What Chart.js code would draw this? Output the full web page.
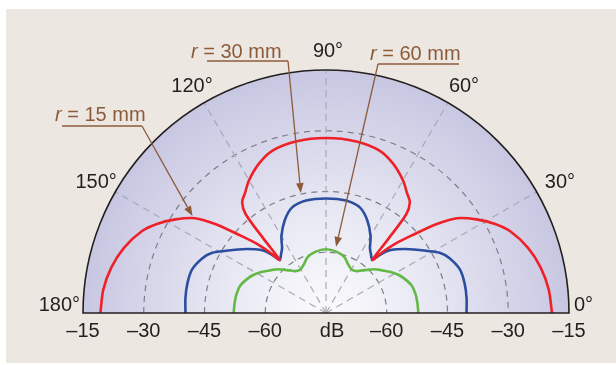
<!DOCTYPE html>
<html>
<head>
<meta charset="utf-8">
<script src="https://cdn.jsdelivr.net/npm/chart.js@4/dist/chart.umd.min.js"></script>
<style>
  html, body { margin: 0; padding: 0; background: #fff; }
  canvas { display: block; }
</style>
</head>
<body>
<canvas id="myChart" width="616" height="365"></canvas>
<script>
// Ángulos (grados) en los que se leyeron los niveles de cada curva
const angles = [0, 6, 12, 18, 24, 28, 32, 36, 39, 42, 45, 47, 49, 50, 51, 53, 56, 60, 66, 72, 80, 90,
                100, 108, 114, 120, 124, 127, 129, 130, 131, 133, 135, 138, 141, 144, 148, 152, 156, 162, 168, 174, 180];

// Niveles en dB para cada distancia r
const level15mm = [-19.2, -19.7, -20.8, -22.6, -25.2, -27.9, -31.2, -35.0, -40.0, -46.0, -50.6, -54.0, -57.5, -51.5, -43.5, -40.6, -39.2, -37.0, -34.4, -32.6, -31.8, -31.6,
                   -31.8, -32.6, -34.4, -37.0, -39.2, -40.6, -43.5, -51.5, -57.5, -54.0, -50.6, -46.0, -40.0, -35.0, -31.2, -27.9, -25.2, -22.6, -20.8, -19.7, -19.3];
const level30mm = [-40.3, -40.1, -40.0, -40.2, -41.6, -43.2, -45.9, -48.2, -49.8, -51.4, -53.1, -55.0, -57.6, -57.4, -57.2, -56.6, -55.6, -53.0, -49.9, -47.6, -46.7, -46.6,
                   -46.7, -47.6, -49.9, -53.0, -55.6, -56.6, -57.2, -57.4, -57.6, -55.0, -53.1, -51.4, -49.8, -48.2, -45.9, -43.2, -41.6, -40.2, -40.0, -40.1, -40.3];
const level60mm = [-52.2, -52.3, -52.4, -52.8, -53.9, -54.8, -55.9, -57.2, -58.0, -58.8, -59.8, -60.4, -61.0, -61.2, -61.5, -62.0, -62.4, -62.5, -61.7, -60.4, -59.6, -59.2,
                   -59.6, -60.4, -61.7, -62.5, -62.4, -62.0, -61.5, -61.2, -61.0, -60.4, -59.8, -58.8, -58.0, -57.2, -55.9, -54.8, -53.9, -52.8, -52.4, -52.3, -52.2];

// Escala radial: centro = -75 dB, borde = -15 dB
const dbMin = -75;
const dbMax = -15;
const ringLevels = [-30, -45, -60];
const spokeAngles = [30, 60, 90, 120, 150];
const angleTicks = [0, 30, 60, 90, 120, 150, 180];
const angleTickLabels = ['0°', '30°', '60°', '90°', '120°', '150°', '180°'];
const radialTicks = [-15, -30, -45, -60, 0, -60, -45, -30, -15]; // 0 = etiqueta de unidades
const radialTickSide = [-1, -1, -1, -1, 0, 1, 1, 1, 1];
const radialTickLabels = ['\u201315', '\u201330', '\u201345', '\u201360', 'dB', '\u201360', '\u201345', '\u201330', '\u201315'];

// Rótulos con flecha: texto, ángulo y nivel donde apunta la flecha
const callouts = [
  { value: '15 mm', tipAngle: 143.9, tipDb: -34.2, textX: 55, textY: 115, lineX1: 62, lineX2: 142, lineY: 126, fromRight: true },
  { value: '30 mm', tipAngle: 101.8, tipDb: -44.6, textX: 191, textY: 52, lineX1: 207, lineX2: 288, lineY: 61, fromRight: true },
  { value: '60 mm', tipAngle: 81.4, tipDb: -58.4, textX: 370, textY: 54, lineX1: 378, lineX2: 459, lineY: 64, fromRight: false }
];

const FONT = "'Liberation Sans', Arial, Helvetica, sans-serif";
const BROWN = '#8c5b3a';

// Convierte (ángulo, dB) en coordenadas x/y de los ejes
function toXY(levels) {
  return angles.map((a, i) => {
    const r = levels[i] - dbMin;
    const t = a * Math.PI / 180;
    return { x: r * Math.cos(t), y: r * Math.sin(t) };
  });
}

function polarPixel(chart, angle, db) {
  const { x, y } = chart.scales;
  const r = db - dbMin;
  const t = angle * Math.PI / 180;
  return { px: x.getPixelForValue(r * Math.cos(t)), py: y.getPixelForValue(r * Math.sin(t)) };
}

// Fondo, semicírculo con degradado y rejilla polar
const polarBackground = {
  id: 'polarBackground',
  beforeDatasetsDraw(chart) {
    const { ctx, scales: { x, y } } = chart;
    const cx = x.getPixelForValue(0);
    const cy = y.getPixelForValue(0);
    const R = x.getPixelForValue(dbMax - dbMin) - cx;

    ctx.save();
    ctx.fillStyle = '#ede7e2';
    ctx.fillRect(6, 9, 610, 354);

    const grad = ctx.createRadialGradient(cx, cy, 0, cx, cy, R);
    grad.addColorStop(0, '#fbfbfd');
    grad.addColorStop(0.4, '#e9e9f4');
    grad.addColorStop(1, '#c8c7e2');
    ctx.fillStyle = grad;
    ctx.beginPath();
    ctx.moveTo(cx - R, cy);
    ctx.arc(cx, cy, R, Math.PI, 2 * Math.PI);
    ctx.closePath();
    ctx.fill();

    // círculos discontinuos
    ctx.strokeStyle = '#7e7e86';
    ctx.lineWidth = 1.2;
    ctx.setLineDash([6, 5]);
    ringLevels.forEach(db => {
      const r = x.getPixelForValue(db - dbMin) - cx;
      ctx.beginPath();
      ctx.arc(cx, cy, r, Math.PI, 2 * Math.PI);
      ctx.stroke();
    });

    // radios discontinuos
    ctx.strokeStyle = '#a9a9b4';
    ctx.setLineDash([7, 5]);
    spokeAngles.forEach(a => {
      const p = polarPixel(chart, a, dbMax);
      ctx.beginPath();
      ctx.moveTo(cx, cy);
      ctx.lineTo(p.px, p.py);
      ctx.stroke();
    });
    ctx.restore();
  },
  afterDatasetsDraw(chart) {
    const { ctx, scales: { x, y } } = chart;
    const cx = x.getPixelForValue(0);
    const cy = y.getPixelForValue(0);
    const R = x.getPixelForValue(dbMax - dbMin) - cx;

    ctx.save();
    ctx.strokeStyle = '#231f20';
    ctx.lineWidth = 1.6;
    ctx.beginPath();
    ctx.moveTo(cx - R, cy);
    ctx.arc(cx, cy, R, Math.PI, 2 * Math.PI);
    ctx.closePath();
    ctx.stroke();

    // rótulos con flecha
    callouts.forEach(c => {
      const tip = polarPixel(chart, c.tipAngle, c.tipDb);
      const sx = c.fromRight ? c.lineX2 : c.lineX1;
      const sy = c.lineY;
      ctx.strokeStyle = BROWN;
      ctx.fillStyle = BROWN;
      ctx.lineWidth = 1.3;
      ctx.beginPath();
      ctx.moveTo(c.lineX1, c.lineY);
      ctx.lineTo(c.lineX2, c.lineY);
      ctx.stroke();

      const ang = Math.atan2(tip.py - sy, tip.px - sx);
      const len = 10, half = 3.8;
      const bx = tip.px - len * Math.cos(ang);
      const by = tip.py - len * Math.sin(ang);
      ctx.beginPath();
      ctx.moveTo(sx, sy);
      ctx.lineTo(bx, by);
      ctx.stroke();
      ctx.beginPath();
      ctx.moveTo(tip.px, tip.py);
      ctx.lineTo(bx + half * Math.sin(ang), by - half * Math.cos(ang));
      ctx.lineTo(bx - half * Math.sin(ang), by + half * Math.cos(ang));
      ctx.closePath();
      ctx.fill();

      ctx.textBaseline = 'middle';
      ctx.textAlign = 'left';
      ctx.font = 'italic 20px ' + FONT;
      ctx.fillText('r', c.textX, c.textY);
      const w = ctx.measureText('r').width;
      ctx.font = '20px ' + FONT;
      ctx.fillText(' = ' + c.value, c.textX + w, c.textY);
    });
    ctx.restore();
  },
  afterDraw(chart) {
    const { ctx, scales: { x, y } } = chart;
    const cx = x.getPixelForValue(0);
    const cy = y.getPixelForValue(0);
    const R = x.getPixelForValue(dbMax - dbMin) - cx;

    ctx.save();
    ctx.fillStyle = '#231f20';
    ctx.font = '20px ' + FONT;
    ctx.textBaseline = 'middle';

    // etiquetas de ángulo
    angleTicks.forEach((a, i) => {
      if (a === 0) {
        ctx.textAlign = 'left';
        ctx.fillText(angleTickLabels[i], cx + R + 5, cy - 8);
      } else if (a === 180) {
        ctx.textAlign = 'right';
        ctx.fillText(angleTickLabels[i], cx - R - 3, cy - 8);
      } else {
        const t = a * Math.PI / 180;
        const c = Math.cos(t);
        const extra = Math.abs(c) < 0.01 ? 0 : Math.sign(c) * 5;
        ctx.textAlign = 'center';
        ctx.fillText(angleTickLabels[i], cx + 262 * c + extra + 2, cy - 262 * Math.sin(t));
      }
    });

    // etiquetas radiales bajo la base
    ctx.textAlign = 'center';
    radialTicks.forEach((db, i) => {
      const side = radialTickSide[i];
      const px = side === 0 ? cx + 6 : x.getPixelForValue(side * (db - dbMin));
      ctx.fillText(radialTickLabels[i], px, cy + 18);
    });
    ctx.restore();
  }
};

const ctx = document.getElementById('myChart').getContext('2d');

new Chart(ctx, {
  type: 'scatter',
  data: {
    datasets: [
      { label: 'r = 15 mm', data: toXY(level15mm), borderColor: '#ee2128' },
      { label: 'r = 30 mm', data: toXY(level30mm), borderColor: '#2c4ea0' },
      { label: 'r = 60 mm', data: toXY(level60mm), borderColor: '#63b946' }
    ].map(d => Object.assign(d, {
      showLine: true,
      borderWidth: 2.6,
      pointRadius: 0,
      tension: 0.3,
      fill: false
    }))
  },
  options: {
    responsive: false,
    animation: false,
    events: [],
    layout: { padding: { left: 83, right: 47, top: 71, bottom: 52 } },
    scales: {
      x: { type: 'linear', min: -(dbMax - dbMin), max: dbMax - dbMin, display: false },
      y: { type: 'linear', min: 0, max: dbMax - dbMin, display: false }
    },
    plugins: {
      legend: { display: false },
      tooltip: { enabled: false }
    }
  },
  plugins: [polarBackground]
});
</script>
</body>
</html>
